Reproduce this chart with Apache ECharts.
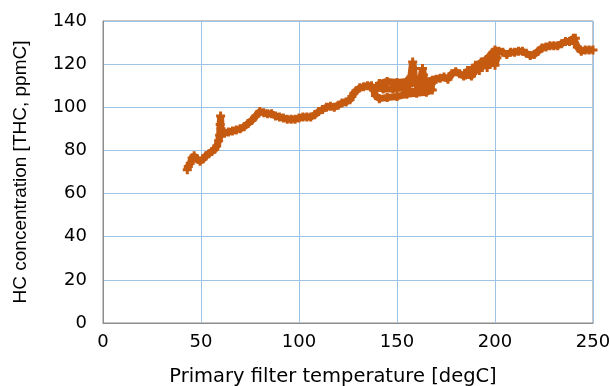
<!DOCTYPE html>
<html><head><meta charset="utf-8">
<script src="https://cdn.jsdelivr.net/npm/echarts@6/dist/echarts.min.js"></script>
<style>html,body{margin:0;padding:0;background:#fff}#c{width:610px;height:386px}</style>
</head><body><div id="c"></div>
<script>
// Primary filter temperature [degC], in time order
const temp = [43,43.5,44.5,45.5,46.5,48,49.5,51,52.5,54,55.5,57,58,59,59.5,59.8,60,60.2,60.5,62,64,66,68,70,72,74,76,78,80,82,84,86,88,90,92,94,96,98,100,102,104,106,108,110,112,114,116,118,120,122,124,126,127,128,129,131,133,135,137,138,139,141,145,150,155,160,165,168,166,160,155,150,145,141,140,143,148,153,156,157,158,158.5,159,161,162,163,163.5,164.5,166,167,169,167,164,161,158,155,152,149,152,156,160,164,168,170,172,174,176,178,180,182,184,186,188,190,192,194,196,198,200,201,199,197,195,193,191,189,187,185,188,191,193,196,198,200,202,204,206,208,210,212,214,216,218,220,222,224,226,228,230,232,234,236,238,239,240,241,242,244,246,248,250];
// HC concentration [THC, ppmC]
const hc = [71,72.5,74,76.5,77.5,76,75,76,77.5,78.5,79.5,80.5,82,84.5,87,92,96,90,87.5,88,88.5,89,89.5,90,91,92.5,94,96,98,97.5,97,97,96,95.5,95,94.5,94.5,94.5,95,95.5,95.5,95.5,96.5,98,99,100,100.5,100,101,102,102.5,103.5,105,106.5,107.5,109,109.5,110,110,108,105.5,104,104.5,105,106,106.5,107,108,111,112,112,111.5,112,111,109,108.5,108.5,109,110,114,121,118,112,109,112,118,115,110,109,111.5,112.5,110,108.5,107.5,107,108,109.5,110,110.5,111,111.5,112,112.5,113,113.5,114,113,115.5,116.5,115.5,114.5,117,115.5,119.5,117,121,118.5,122,119.5,123,125.5,123.5,121.5,120,119,118,117,115,114.5,118,121,122,124,126.5,126,125.5,124.5,125.5,125.5,126,126,125,124,124.5,126,127.5,128,128.5,128.5,128.5,129.5,130.5,130.5,131,132,132,128,126,126.5,126.5,126.5,126.5];
const xTicks = [0,50,100,150,200,250];
const yTicks = [0,20,40,60,80,100,120,140];

const data = temp.map((t,i)=>[t,hc[i]]);
const font = 'DejaVu Sans, sans-serif';
const chart = echarts.init(document.getElementById('c'));
chart.setOption({
  animation:false,
  grid:{left:103,right:17,top:21,bottom:63,outerBoundsMode:'none',containLabel:false,show:true,borderColor:'#8c8c8c',borderWidth:1},
  xAxis:{type:'value',min:xTicks[0],max:xTicks[xTicks.length-1],interval:50,
    name:'Primary filter temperature [degC]',nameLocation:'middle',nameGap:44,
    nameTextStyle:{fontFamily:font,fontSize:19.5,color:'#000',padding:[0,30,0,0]},
    axisLine:{show:true,lineStyle:{color:'#8c8c8c'}},axisTick:{show:false},
    axisLabel:{fontFamily:font,fontSize:18,color:'#000',margin:10},
    splitLine:{lineStyle:{color:'#9dc3e6',width:1}}},
  yAxis:{type:'value',min:yTicks[0],max:yTicks[yTicks.length-1],interval:20,
    name:'HC concentration [THC, ppmC]',nameLocation:'middle',nameGap:73,
    nameTextStyle:{fontFamily:'Liberation Sans, Arial, sans-serif',fontSize:19,color:'#000'},
    axisLine:{show:true,lineStyle:{color:'#8c8c8c'}},axisTick:{show:false},
    axisLabel:{fontFamily:font,fontSize:18,color:'#000',margin:16},
    splitLine:{lineStyle:{color:'#9dc3e6',width:1}}},
  series:[{type:'line',data:data,
    lineStyle:{color:'#c55a11',width:7},
    symbol:'path://M2,0h2v2h2v2h-2v2h-2v-2h-2v-2h2z',symbolSize:9,showAllSymbol:true,
    itemStyle:{color:'#c55a11'}}]
});
</script></body></html>
